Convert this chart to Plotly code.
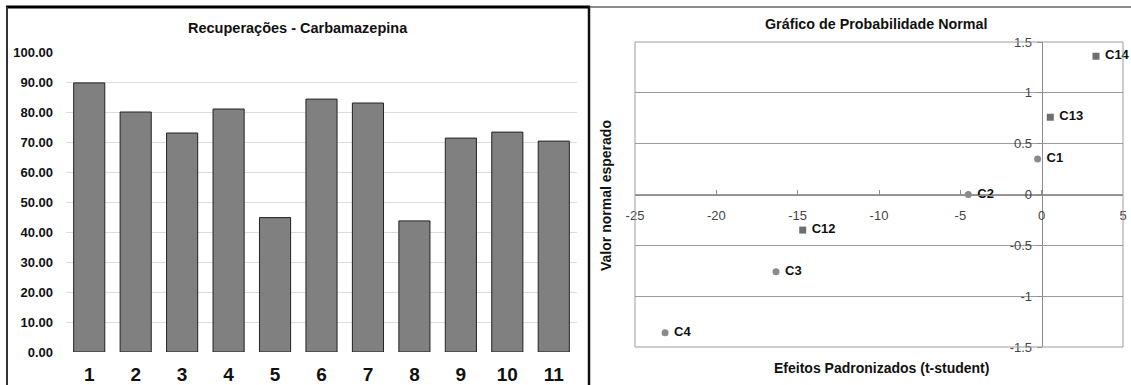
import plotly.graph_objects as go

W, H = 1131, 385

# Recovery per sample (%)
samples = ["1", "2", "3", "4", "5", "6", "7", "8", "9", "10", "11"]
recovery = [89.7, 80.0, 73.0, 81.0, 44.8, 84.3, 83.0, 43.7, 71.3, 73.3, 70.3]
recovery_ticks = [0, 10, 20, 30, 40, 50, 60, 70, 80, 90, 100]

# Standardized effects (t-student) vs expected normal value
main_labels = ["C1", "C2", "C3", "C4"]
main_t = [-0.25, -4.51, -16.33, -23.15]
main_z = [0.35, 0.0, -0.76, -1.36]
inter_labels = ["C12", "C13", "C14"]
inter_t = [-14.69, 0.53, 3.34]
inter_z = [-0.35, 0.76, 1.36]
t_ticks = [-25, -20, -15, -10, -5, 0, 5]
z_ticks = [-1.5, -1, -0.5, 0, 0.5, 1, 1.5]


def px(x):
    # pixel column -> paper fraction
    return x / W


def py(y):
    # pixel row -> paper fraction
    return 1 - y / H


def plain(v):
    # ASCII hyphen for negatives, no trailing zeros
    return "%g" % v


FONT = "Liberation Sans"

fig = go.Figure()

fig.add_trace(go.Bar(
    x=samples, y=recovery, xaxis="x", yaxis="y",
    marker=dict(color="#808080", line=dict(color="#222222", width=1)),
    showlegend=False,
))

fig.add_trace(go.Scatter(
    x=main_t, y=main_z, xaxis="x2", yaxis="y2",
    mode="markers+text", text=[" " + s for s in main_labels],
    textposition="middle right",
    textfont=dict(family=FONT, size=13, color="#111111", weight="bold"),
    marker=dict(symbol="circle", size=7, color="#8a8a8a"),
    showlegend=False, cliponaxis=False,
))
fig.add_trace(go.Scatter(
    x=inter_t, y=inter_z, xaxis="x2", yaxis="y2",
    mode="markers+text", text=[" " + s for s in inter_labels],
    textposition="middle right",
    textfont=dict(family=FONT, size=13, color="#111111", weight="bold"),
    marker=dict(symbol="square", size=7, color="#6e6e6e"),
    showlegend=False, cliponaxis=False,
))

x2_dom = [px(635), px(1123)]
y2_dom = [py(347), py(42)]
t_range = [-25, 5]
z_range = [-1.5, 1.5]
y_axis_pos = x2_dom[0] + (0 - t_range[0]) / (t_range[1] - t_range[0]) * (x2_dom[1] - x2_dom[0])
x_axis_pos = y2_dom[0] + (0 - z_range[0]) / (z_range[1] - z_range[0]) * (y2_dom[1] - y2_dom[0])

fig.update_layout(
    width=W, height=H,
    margin=dict(l=0, r=0, t=0, b=0, autoexpand=False),
    paper_bgcolor="white", plot_bgcolor="white",
    bargap=0.33,
    xaxis=dict(
        domain=[px(66), px(577)], type="category", automargin=False,
        showgrid=False, showline=False, zeroline=False, ticks="",
        tickfont=dict(family=FONT, size=19, color="#111111", weight="bold"),
        ticklabelstandoff=9, fixedrange=True,
    ),
    yaxis=dict(
        domain=[py(352), py(52)], range=[0, 100], automargin=False,
        tickvals=recovery_ticks, tickformat=".2f",
        showgrid=True, gridcolor="#dcdcdc", gridwidth=1,
        zeroline=False, showline=False, ticks="",
        tickfont=dict(family=FONT, size=13, color="#111111", weight="bold"),
        ticklabelstandoff=12,
    ),
    xaxis2=dict(
        domain=x2_dom, range=t_range, anchor="free", position=x_axis_pos,
        automargin=False,
        tickvals=t_ticks, ticktext=[plain(v) for v in t_ticks],
        showgrid=False, zeroline=False,
        showline=True, linecolor="#8c8c8c", linewidth=1,
        ticks="inside", ticklen=5, tickcolor="#8c8c8c",
        tickfont=dict(family=FONT, size=13, color="#444444"),
        ticklabelstandoff=9,
    ),
    yaxis2=dict(
        domain=y2_dom, range=z_range, anchor="free", position=y_axis_pos,
        automargin=False,
        tickvals=z_ticks, ticktext=[plain(v) for v in z_ticks],
        showgrid=True, gridcolor="#9c9c9c", gridwidth=1,
        zeroline=False, showline=True, linecolor="#8c8c8c", linewidth=1,
        ticks="outside", ticklen=5, tickcolor="#8c8c8c",
        tickfont=dict(family=FONT, size=13, color="#444444"),
        ticklabelstandoff=2,
    ),
    shapes=[
        # plot-area border of the probability chart
        dict(type="rect", xref="x2 domain", yref="y2 domain", x0=0, x1=1, y0=0, y1=1,
             line=dict(color="#9c9c9c", width=1)),
        # panel frames
        dict(type="line", xref="paper", yref="paper", x0=px(6), x1=px(590), y0=py(7), y1=py(7),
             line=dict(color="#000000", width=3)),
        dict(type="line", xref="paper", yref="paper", x0=px(7), x1=px(7), y0=py(7), y1=py(385),
             line=dict(color="#333333", width=2)),
        dict(type="line", xref="paper", yref="paper", x0=px(589), x1=px(589), y0=py(6), y1=py(385),
             line=dict(color="#111111", width=2.5)),
        dict(type="line", xref="paper", yref="paper", x0=px(590), x1=px(1131), y0=py(7), y1=py(7),
             line=dict(color="#666666", width=1.5)),
    ],
    annotations=[
        dict(text="Recuperações - Carbamazepina", xref="paper", yref="paper",
             x=px(298), y=py(28), showarrow=False, xanchor="center", yanchor="middle",
             font=dict(family=FONT, size=14.5, color="#111111", weight="bold")),
        dict(text="Gráfico de Probabilidade Normal", xref="paper", yref="paper",
             x=px(876), y=py(24), showarrow=False, xanchor="center", yanchor="middle",
             font=dict(family=FONT, size=14.3, color="#111111", weight="bold")),
        dict(text="Efeitos Padronizados (t-student)", xref="paper", yref="paper",
             x=px(881), y=py(368), showarrow=False, xanchor="center", yanchor="middle",
             font=dict(family=FONT, size=14, color="#111111", weight="bold")),
        dict(text="Valor normal esperado", xref="paper", yref="paper",
             x=px(606), y=py(196), showarrow=False, xanchor="center", yanchor="middle",
             textangle=-90,
             font=dict(family=FONT, size=14, color="#111111", weight="bold")),
    ],
)

fig.write_html("out.html")
